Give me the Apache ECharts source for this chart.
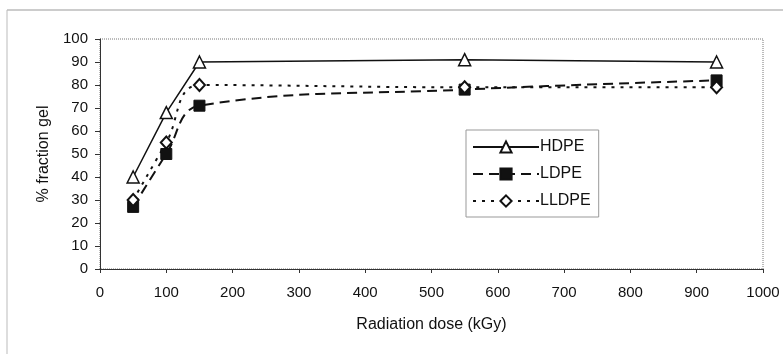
<!DOCTYPE html>
<html><head><meta charset="utf-8">
<script src="https://cdn.jsdelivr.net/npm/echarts@6/dist/echarts.min.js"></script>
<style>html,body{margin:0;padding:0;background:#fff}#c{width:783px;height:354px}</style>
</head><body><div id="c"></div>
<script>
const doses = [50, 100, 150, 550, 930];
const hdpe = [40, 68, 90, 91, 90];
const ldpe = [27, 50, 71, 78, 82];
const lldpe = [30, 55, 80, 79, 79];
const seriesNames = ['HDPE', 'LDPE', 'LLDPE'];
const xTitle = 'Radiation dose (kGy)';
const yTitle = '% fraction gel';

const pair = (xs, ys) => xs.map((x, i) => [x, ys[i]]);
const font = 'Liberation Sans, Arial, sans-serif';
const chart = echarts.init(document.getElementById('c'), null, {renderer: 'canvas'});
chart.setOption({
  animation: false,
  backgroundColor: '#fff',
  grid: {left: 100, right: 20, top: 39, bottom: 85, show: true, borderColor: '#777', borderWidth: 1, borderType: 'dotted'},
  xAxis: {
    type: 'value', min: 0, max: 1000, interval: 100,
    name: xTitle, nameLocation: 'middle', nameGap: 36,
    nameTextStyle: {fontFamily: font, fontSize: 16, color: '#111', padding: [12, 0, 0, 0]},
    axisLine: {lineStyle: {color: '#333', width: 1}},
    axisTick: {show: true, length: 4, lineStyle: {color: '#333'}},
    axisLabel: {fontFamily: font, fontSize: 15, color: '#111', margin: 16, formatter: v => String(v)},
    splitLine: {show: false}
  },
  yAxis: {
    type: 'value', min: 0, max: 100, interval: 10,
    name: yTitle, nameLocation: 'middle', nameGap: 47, nameRotate: 90,
    nameTextStyle: {fontFamily: font, fontSize: 16, color: '#111'},
    axisLine: {show: true, lineStyle: {color: '#333', width: 1}},
    axisTick: {show: true, length: 5, lineStyle: {color: '#333'}},
    axisLabel: {fontFamily: font, fontSize: 15, color: '#111', margin: 12},
    splitLine: {show: false}
  },
  legend: {
    orient: 'vertical', left: 466, top: 130, width: 136,
    padding: [9, 8, 8, 6], itemGap: 11, itemWidth: 66, itemHeight: 14,
    borderColor: '#999', borderWidth: 1, backgroundColor: '#fff',
    textStyle: {fontFamily: font, fontSize: 16, color: '#111', padding: [0, 0, 0, -4]},
    data: seriesNames
  },
  series: [
    {name: seriesNames[0], type: 'line', data: pair(doses, hdpe), smooth: false,
     symbol: 'triangle', symbolSize: 12, showAllSymbol: true,
     lineStyle: {color: '#111', width: 1.5, type: 'solid'},
     itemStyle: {color: '#fff', borderColor: '#111', borderWidth: 1.5}, z: 3},
    {name: seriesNames[1], type: 'line', data: pair(doses, ldpe), smooth: 0.4,
     symbol: 'rect', symbolSize: 11,
     lineStyle: {color: '#111', width: 2, type: [10, 6]},
     itemStyle: {color: '#111', borderColor: '#111', borderWidth: 1}, z: 2},
    {name: seriesNames[2], type: 'line', data: pair(doses, lldpe), smooth: 0.4,
     symbol: 'diamond', symbolSize: [11, 12],
     lineStyle: {color: '#111', width: 2, type: [3, 6]},
     itemStyle: {color: '#fff', borderColor: '#111', borderWidth: 2}, z: 4}
  ],
  graphic: [
    {type: 'line', shape: {x1: 7, y1: 10, x2: 783, y2: 10}, style: {stroke: '#999', lineWidth: 1}},
    {type: 'line', shape: {x1: 7, y1: 10, x2: 7, y2: 354}, style: {stroke: '#bbb', lineWidth: 1}}
  ]
});
</script></body></html>
